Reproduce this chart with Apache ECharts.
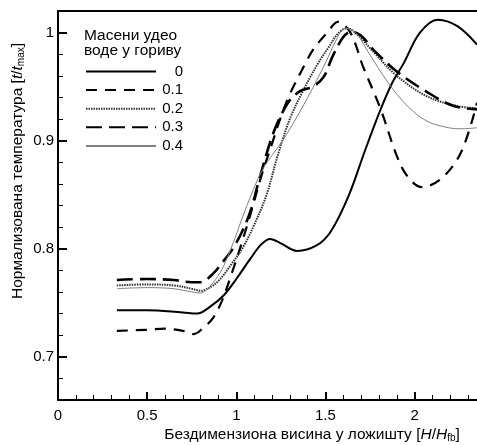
<!DOCTYPE html>
<html>
<head>
<meta charset="utf-8">
<script src="https://cdn.jsdelivr.net/npm/echarts@6/dist/echarts.min.js"></script>
<style>
  html, body { margin: 0; padding: 0; background: #fff; }
  #main { width: 477px; height: 445px; }
</style>
</head>
<body>
<div id="main"></div>
<script>
// масени удео воде у гориву
const names = ["0", "0.1", "0.2", "0.3", "0.4"];

// ознаке на осама
const xMajor = [0, 0.5, 1, 1.5, 2];
const xMinor = [0, 0.1, 0.2, 0.3, 0.4, 0.5, 0.6, 0.7, 0.8, 0.9, 1, 1.1, 1.2, 1.3, 1.4, 1.5, 1.6, 1.7, 1.8, 1.9, 2, 2.1, 2.2, 2.3];
const yMajor = [0.7, 0.8, 0.9, 1];
const yMinor = [0.66, 0.68, 0.7, 0.72, 0.74, 0.76, 0.78, 0.8, 0.82, 0.84, 0.86, 0.88, 0.9, 0.92, 0.94, 0.96, 0.98, 1, 1.02];

// 0
const x0 = [0.33, 0.5, 0.7, 0.78, 0.85, 0.93, 1.0, 1.08, 1.14, 1.19, 1.25, 1.34, 1.45, 1.53, 1.63, 1.72, 1.8, 1.87, 1.94, 2.03, 2.13, 2.24, 2.35];
const y0 = [0.743, 0.743, 0.741, 0.740, 0.746, 0.757, 0.772, 0.791, 0.804, 0.809, 0.805, 0.798, 0.803, 0.816, 0.849, 0.89, 0.925, 0.952, 0.972, 1.0, 1.012, 1.006, 0.989];
// 0.1
const x1 = [0.33, 0.5, 0.6, 0.7, 0.76, 0.81, 0.87, 0.92, 0.97, 1.03, 1.09, 1.14, 1.2, 1.25, 1.3, 1.38, 1.43, 1.51, 1.57, 1.64, 1.71, 1.81, 1.9, 1.96, 2.04, 2.15, 2.26, 2.35];
const y1 = [0.724, 0.725, 0.726, 0.724, 0.721, 0.726, 0.736, 0.752, 0.775, 0.805, 0.838, 0.867, 0.897, 0.922, 0.943, 0.969, 0.984, 1.0, 1.01, 1.0, 0.969, 0.929, 0.886, 0.867, 0.857, 0.865, 0.889, 0.935];
// 0.2
const x2 = [0.33, 0.5, 0.65, 0.75, 0.8, 0.86, 0.91, 0.97, 1.04, 1.1, 1.17, 1.23, 1.3, 1.38, 1.46, 1.52, 1.57, 1.62, 1.68, 1.77, 1.9, 2.07, 2.24, 2.35];
const y2 = [0.766, 0.767, 0.766, 0.763, 0.761, 0.765, 0.772, 0.785, 0.802, 0.822, 0.85, 0.885, 0.92, 0.948, 0.972, 0.987, 0.999, 1.004, 0.998, 0.982, 0.96, 0.941, 0.932, 0.93];
// 0.3
const x3 = [0.33, 0.5, 0.65, 0.75, 0.8, 0.87, 0.93, 0.98, 1.03, 1.08, 1.13, 1.21, 1.29, 1.36, 1.43, 1.49, 1.54, 1.6, 1.645, 1.7, 1.77, 1.9, 2.07, 2.22, 2.35];
const y3 = [0.771, 0.772, 0.771, 0.769, 0.769, 0.777, 0.789, 0.8, 0.815, 0.835, 0.865, 0.908, 0.935, 0.946, 0.95, 0.959, 0.978, 0.996, 1.001, 0.997, 0.984, 0.964, 0.945, 0.932, 0.929];
// 0.4
const x4 = [0.33, 0.5, 0.65, 0.75, 0.8, 0.85, 0.91, 0.97, 1.06, 1.15, 1.26, 1.34, 1.42, 1.5, 1.56, 1.61, 1.67, 1.74, 1.85, 1.96, 2.07, 2.19, 2.27, 2.35];
const y4 = [0.763, 0.764, 0.763, 0.760, 0.759, 0.765, 0.778, 0.8, 0.84, 0.874, 0.9, 0.922, 0.946, 0.972, 0.993, 1.004, 1.0, 0.982, 0.954, 0.932, 0.918, 0.912, 0.911, 0.912];

let pairs = (xs, ys) => xs.map((x, i) => [x, ys[i]]);

let myChart = document.getElementById("main");
let initChart = echarts.init(myChart, null, { renderer: "canvas" });

let styles = [
  { color: "#000", width: 2, type: "solid" },
  { color: "#000", width: 2.2, type: [11, 8] },
  { color: "#333", width: 2, type: [1.5, 1] },
  { color: "#000", width: 2.6, type: [16, 7] },
  { color: "#808080", width: 1, type: "solid" },
];
let xs = [x0, x1, x2, x3, x4];
let ys = [y0, y1, y2, y3, y4];

let rich = {
  n: { fontSize: 15.5, color: "#000" },
  i: { fontSize: 15.5, fontStyle: "italic", color: "#000" },
  s: { fontSize: 10, color: "#000", padding: [7, 0, 0, 0] },
};

let option = {
  animation: false,
  textStyle: { fontFamily: "Liberation Sans" },
  grid: { left: 58, right: 0, top: 11, bottom: 45 },

  title: {
    text: "Масени удео\nводе у гориву",
    left: 84,
    top: 28,
    padding: 0,
    textStyle: { fontSize: 15.5, fontWeight: "normal", lineHeight: 15, color: "#000" },
  },

  legend: {
    data: names,
    orient: "vertical",
    left: 85,
    top: 64,
    padding: 0,
    itemWidth: 70,
    itemHeight: 14,
    itemGap: 3.6,
    itemStyle: { opacity: 0, borderWidth: 0 },
    formatter: (n) => "{a|" + n + "}",
    textStyle: {
      color: "#000",
      fontSize: 15,
      rich: { a: { width: 22, align: "right", fontSize: 15, color: "#000" } },
    },
  },

  xAxis: [
    {
      type: "value",
      position: "bottom",
      min: 0,
      max: 2.35,
      axisLine: { lineStyle: { color: "#000", width: 2 } },
      axisTick: { show: true, inside: true, length: 8, customValues: xMajor, lineStyle: { color: "#000", width: 2 } },
      axisLabel: { customValues: xMajor, color: "#000", fontSize: 15, margin: 8 },
      splitLine: { show: false },
    },
    {
      type: "value",
      position: "bottom",
      min: 0,
      max: 2.35,
      axisLine: { show: false },
      axisTick: { show: true, inside: true, length: 5, customValues: xMinor, lineStyle: { color: "#000", width: 1 } },
      axisLabel: { show: false },
      splitLine: { show: false },
    },
    {
      type: "value",
      position: "top",
      min: 0,
      max: 2.35,
      axisLine: { lineStyle: { color: "#000", width: 2 } },
      axisTick: { show: false },
      axisLabel: { show: false },
      splitLine: { show: false },
    },
  ],

  yAxis: [
    {
      type: "value",
      position: "left",
      min: 0.66,
      max: 1.02,
      axisLine: { show: true, lineStyle: { color: "#000", width: 2 } },
      axisTick: { show: true, inside: true, length: 9, customValues: yMajor, lineStyle: { color: "#000", width: 2 } },
      axisLabel: { customValues: yMajor, color: "#000", fontSize: 15, margin: 4 },
      splitLine: { show: false },
    },
    {
      type: "value",
      position: "left",
      min: 0.66,
      max: 1.02,
      axisLine: { show: false },
      axisTick: { show: true, inside: true, length: 5, customValues: yMinor, lineStyle: { color: "#000", width: 1 } },
      axisLabel: { show: false },
      splitLine: { show: false },
    },
  ],

  series: names.map((n, k) => ({
    name: n,
    type: "line",
    xAxisIndex: 0,
    yAxisIndex: 0,
    data: pairs(xs[k], ys[k]),
    smooth: 0.35,
    symbol: "none",
    lineStyle: styles[k],
    itemStyle: { color: styles[k].color },
  })),

  graphic: [
    {
      type: "text",
      x: 18,
      y: 171,
      rotation: Math.PI / 2,
      style: {
        text: "{n|Нормализована температура [}{i|t}{n|/}{i|t}{s|max}{n|]}",
        rich: rich,
        align: "center",
        verticalAlign: "middle",
        fontFamily: "Liberation Sans",
      },
    },
    {
      type: "text",
      x: 312,
      y: 435,
      style: {
        text: "{n|Бездимензиона висина у ложишту [}{i|H}{n|/}{i|H}{s|fb}{n|]}",
        rich: rich,
        align: "center",
        verticalAlign: "middle",
        fontFamily: "Liberation Sans",
      },
    },
  ],
};

initChart.setOption(option);
</script>
</body>
</html>
